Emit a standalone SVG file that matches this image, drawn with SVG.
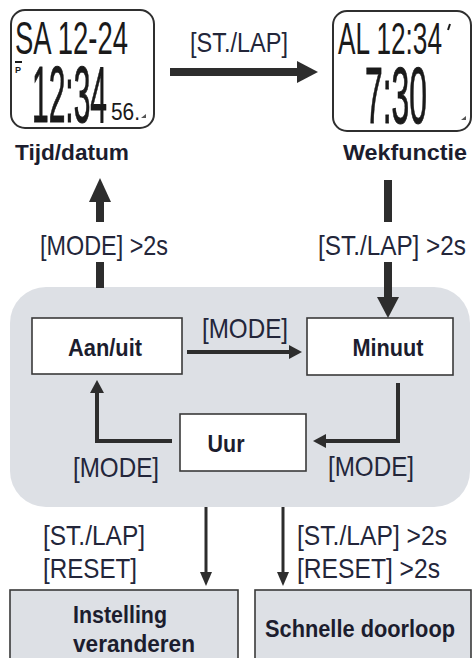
<svg xmlns="http://www.w3.org/2000/svg" width="474" height="658" viewBox="0 0 474 658">
<style>
.lcd{fill:#fff;stroke:#2f2f2f;stroke-width:2}
.lcdt{font-family:"Liberation Sans",Arial,sans-serif;fill:#1a1a1a}
.big{stroke:#1a1a1a;stroke-width:1}
.box{fill:#fff;stroke:#3a3a3a;stroke-width:1.6}
.gbox{fill:#dde0e5;stroke:#3a3a3a;stroke-width:1.6}
.b{font-family:"Liberation Sans",Arial,sans-serif;font-weight:bold;fill:#1c1d2e}
.r{font-family:"Liberation Sans",Arial,sans-serif;fill:#23263a}
.c{fill:none;stroke:#2d2d2d}
.h{fill:#2d2d2d}
</style>
<rect x="10" y="287" width="460" height="220" rx="36" fill="#dde0e5"/>
<g id="tijd">
<rect class="lcd" x="11" y="10" width="143" height="118" rx="14"/>
<text class="lcdt" x="15" y="54" font-size="46" textLength="113" lengthAdjust="spacingAndGlyphs">SA 12-24</text>
<rect x="15" y="61" width="7" height="2" fill="#1a1a1a"/>
<text class="lcdt" x="15" y="73" font-size="9" font-weight="bold">P</text>
<text class="lcdt big" x="32" y="122" font-size="80" textLength="75" lengthAdjust="spacingAndGlyphs">12:34</text>
<text class="lcdt" x="111" y="120" font-size="24" textLength="29" lengthAdjust="spacingAndGlyphs">56.</text>
<path d="M141 118 l5 -4 l0 4 z" fill="#555"/>
<text class="b" x="72" y="160" font-size="22" text-anchor="middle" textLength="114" lengthAdjust="spacingAndGlyphs">Tijd/datum</text>
</g>
<g id="wek">
<rect class="lcd" x="333" y="11" width="138" height="120" rx="14"/>
<text class="lcdt" x="338" y="54" font-size="44" textLength="104" lengthAdjust="spacingAndGlyphs">AL 12:34</text>
<path d="M450 24 l-2 6" stroke="#1a1a1a" stroke-width="2"/>
<text class="lcdt big" x="365" y="123" font-size="80" textLength="62" lengthAdjust="spacingAndGlyphs">7:30</text>
<path d="M461 120 l5 -4 l0 4 z" fill="#555"/>
<text class="b" x="405" y="160" font-size="22" text-anchor="middle" textLength="124" lengthAdjust="spacingAndGlyphs">Wekfunctie</text>
</g>
<g id="aanuit">
<rect class="box" x="32" y="318" width="150" height="56"/>
<text class="b" x="105" y="356" font-size="23" text-anchor="middle" textLength="74" lengthAdjust="spacingAndGlyphs">Aan/uit</text>
</g>
<g id="minuut">
<rect class="box" x="307" y="318" width="146" height="57"/>
<text class="b" x="388" y="356" font-size="23" text-anchor="middle" textLength="71" lengthAdjust="spacingAndGlyphs">Minuut</text>
</g>
<g id="uur">
<rect class="box" x="180" y="414" width="126" height="57"/>
<text class="b" x="226" y="452" font-size="23" text-anchor="middle" textLength="37" lengthAdjust="spacingAndGlyphs">Uur</text>
</g>
<g id="instelling">
<rect class="gbox" x="10" y="590" width="228" height="80"/>
<text class="b" x="73" y="623" font-size="23" textLength="94" lengthAdjust="spacingAndGlyphs">Instelling</text>
<text class="b" x="73" y="652" font-size="23" textLength="122" lengthAdjust="spacingAndGlyphs">veranderen</text>
</g>
<g id="schnelle">
<rect class="gbox" x="255" y="590" width="216" height="80"/>
<text class="b" x="265" y="637" font-size="23" textLength="190" lengthAdjust="spacingAndGlyphs">Schnelle doorloop</text>
</g>
<g id="connectors">
<line class="c" x1="170" y1="72" x2="299" y2="72" stroke-width="8"/>
<polygon class="h" points="297,61 318,72 297,83"/>
<line class="c" x1="100" y1="200" x2="100" y2="222" stroke-width="8"/>
<polygon class="h" points="89,202 100,178 111,202"/>
<line class="c" x1="100" y1="262" x2="100" y2="288" stroke-width="8"/>
<line class="c" x1="388" y1="180" x2="388" y2="222" stroke-width="8"/>
<line class="c" x1="388" y1="262" x2="388" y2="299" stroke-width="8"/>
<polygon class="h" points="377,297 388,318 399,297"/>
<line class="c" x1="187" y1="352" x2="291" y2="352" stroke-width="4"/>
<polygon class="h" points="289,345 302,352 289,359"/>
<polyline class="c" points="172,441 97,441 97,391" stroke-width="4"/>
<polygon class="h" points="90,393 97,380 104,393"/>
<polyline class="c" points="398,383 398,441 324,441" stroke-width="4"/>
<polygon class="h" points="326,434 313,441 326,448"/>
<line class="c" x1="206" y1="507" x2="206" y2="574" stroke-width="3"/>
<polygon class="h" points="200,572 206,586 212,572"/>
<line class="c" x1="283" y1="507" x2="283" y2="574" stroke-width="3"/>
<polygon class="h" points="277,572 283,586 289,572"/>
<text class="r" x="239" y="52" font-size="28" text-anchor="middle" textLength="98" lengthAdjust="spacingAndGlyphs">[ST./LAP]</text>
<text class="r" x="104" y="255" font-size="28" text-anchor="middle" textLength="128" lengthAdjust="spacingAndGlyphs">[MODE] &gt;2s</text>
<text class="r" x="392" y="255" font-size="28" text-anchor="middle" textLength="148" lengthAdjust="spacingAndGlyphs">[ST./LAP] &gt;2s</text>
<text class="r" x="245" y="338" font-size="28" text-anchor="middle" textLength="86" lengthAdjust="spacingAndGlyphs">[MODE]</text>
<text class="r" x="116" y="477" font-size="28" text-anchor="middle" textLength="86" lengthAdjust="spacingAndGlyphs">[MODE]</text>
<text class="r" x="371" y="476" font-size="28" text-anchor="middle" textLength="86" lengthAdjust="spacingAndGlyphs">[MODE]</text>
<text class="r" x="43" y="545" font-size="28" textLength="102" lengthAdjust="spacingAndGlyphs">[ST./LAP]</text>
<text class="r" x="43" y="578" font-size="28" textLength="94" lengthAdjust="spacingAndGlyphs">[RESET]</text>
<text class="r" x="297" y="545" font-size="28" textLength="150" lengthAdjust="spacingAndGlyphs">[ST./LAP] &gt;2s</text>
<text class="r" x="297" y="578" font-size="28" textLength="143" lengthAdjust="spacingAndGlyphs">[RESET] &gt;2s</text>
</g>
</svg>
